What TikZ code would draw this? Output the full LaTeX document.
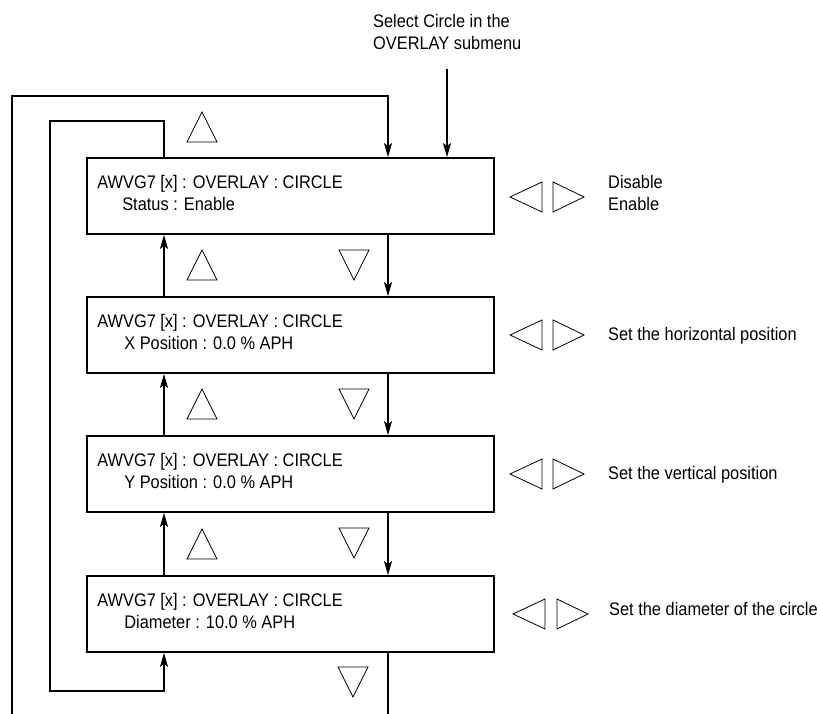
\documentclass[tikz,border=0pt]{standalone}
\usepackage{fontspec}
\setmainfont{Liberation Sans}[FakeStretch=0.9]
\usetikzlibrary{arrows.meta,calc}
\begin{document}
\begin{tikzpicture}[x=1pt,y=-1pt,
  every node/.style={font=\fontsize{18.2}{22}\selectfont, inner sep=0pt},
  menubox/.style={draw, line width=1.8pt, minimum width=407pt, minimum height=76pt},
  txt/.style={anchor=base west, align=left},
  conn/.style={line width=1.1pt},
  arr/.style={conn, -{Stealth[length=14pt,width=8pt,inset=3pt]}},
  key/.style={line width=0.8pt, line join=miter}
]
\useasboundingbox (0,0) rectangle (817,714);

% menu boxes
\node[menubox] (b1) at (290.5,196) {};
\node[menubox] (b2) at (290.5,335) {};
\node[menubox] (b3) at (290.5,474) {};
\node[menubox] (b4) at (290.5,614) {};

\node[txt] (t1) at ($(b1.north west)+(11,53)$) {AWVG7 [x] : OVERLAY : CIRCLE\\\hspace*{25pt}Status : Enable};
\node[txt] (t2) at ($(b2.north west)+(11,53)$) {AWVG7 [x] : OVERLAY : CIRCLE\\\hspace*{27pt}X Position : 0.0 \% APH};
\node[txt] (t3) at ($(b3.north west)+(11,53)$) {AWVG7 [x] : OVERLAY : CIRCLE\\\hspace*{27pt}Y Position : 0.0 \% APH};
\node[txt] (t4) at ($(b4.north west)+(11,53)$) {AWVG7 [x] : OVERLAY : CIRCLE\\\hspace*{27pt}Diameter : 10.0 \% APH};

% entry label
\node[txt] (sel) at (373,50) {Select Circle in the\\OVERLAY submenu};
\coordinate (ein) at (447,69);
\draw[arr] (ein) -- (ein |- b1.north);

% helper x positions
\coordinate (upx) at (164,0);
\coordinate (dnx) at (388,0);

% outer loop
\coordinate (ob) at (12,714);
\coordinate (ot) at (388,96);
\draw[arr] (ob) |- (ot) -- (ot |- b1.north);

% inner loop
\coordinate (it) at (50,121);
\coordinate (ib) at (50,691);
\draw[arr] (b1.north -| upx) |- (it) -- (ib) -| (b4.south -| upx);

% up arrows
\draw[arr] (b2.north -| upx) -- (b1.south -| upx);
\draw[arr] (b3.north -| upx) -- (b2.south -| upx);
\draw[arr] (b4.north -| upx) -- (b3.south -| upx);

% down arrows
\draw[arr] (b1.south -| dnx) -- (b2.north -| dnx);
\draw[arr] (b2.south -| dnx) -- (b3.north -| dnx);
\draw[arr] (b3.south -| dnx) -- (b4.north -| dnx);
\coordinate (dend) at (388,714);
\draw[conn] (b4.south -| dnx) -- (dend);

% up key triangles
\foreach \y in {142,280,419,559}
  \draw[key] (187,\y) -- (217,\y) -- (202,\y-30) -- cycle;
% down key triangles
\foreach \y in {250,389,528}
  \draw[key] (339,\y) -- (369,\y) -- (354,\y+30) -- cycle;
\draw[key] (338,667) -- (368,667) -- (353,697) -- cycle;

% left/right key triangles
\foreach \y in {197,335,474}{
  \draw[key] (542,\y-15) -- (542,\y+15) -- (510,\y) -- cycle;
  \draw[key] (553,\y-15) -- (553,\y+15) -- (584,\y) -- cycle;
}
\draw[key] (545,599) -- (545,629) -- (513,614) -- cycle;
\draw[key] (557,599) -- (557,629) -- (588,614) -- cycle;

% right labels
\node[txt] (r1) at (608,211) {Disable\\Enable};
\node[txt] (r2) at (608,340) {Set the horizontal position};
\node[txt] (r3) at (608,479) {Set the vertical position};
\node[txt] (r4) at (609,615) {Set the diameter of the circle};
\end{tikzpicture}
\end{document}
